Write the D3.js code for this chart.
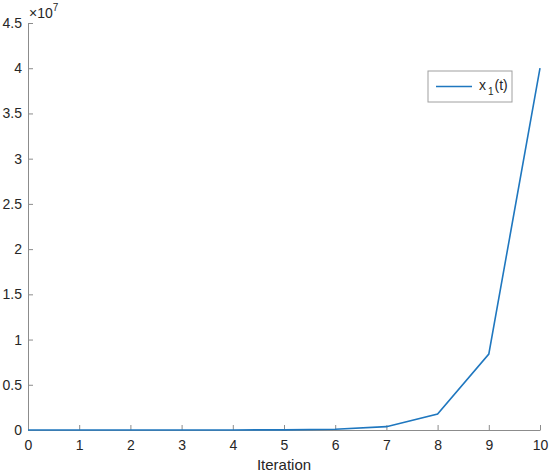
<!DOCTYPE html>
<html><head><meta charset="utf-8">
<script src="https://cdn.jsdelivr.net/npm/d3@7/dist/d3.min.js"></script>
<style>body{margin:0;background:#fff;font-family:Arial,"Liberation Sans",sans-serif;}</style>
</head><body>
<script>
const iterations = [0,1,2,3,4,5,6,7,8,9,10];
const x1Values = [7, 32, 150, 730, 3500, 16500, 78000, 370000, 1770000, 8400000, 40000000];
const xTicks = [0,1,2,3,4,5,6,7,8,9,10];
const yTicks = [0,0.5,1,1.5,2,2.5,3,3.5,4,4.5];
const W=550,H=473;
const m={l:28,r:10,t:23,b:43};
const F="Arial, Liberation Sans, sans-serif";
const svg=d3.select("body").append("svg").attr("width",W).attr("height",H);
const x=d3.scaleLinear().domain([0,10]).range([m.l,W-m.r]);
const y=d3.scaleLinear().domain([0,4.5e7]).range([H-m.b,m.t]);
const gray="#8c8c8c", txt="#262626";
const gx=svg.append("g").attr("transform",`translate(0,${H-m.b})`)
 .call(d3.axisBottom(x).tickValues(xTicks).tickSizeInner(-5).tickSizeOuter(0).tickPadding(10).tickFormat(d3.format("d")));
const gy=svg.append("g").attr("transform",`translate(${m.l},0)`)
 .call(d3.axisLeft(y).tickValues(yTicks.map(v=>v*1e7)).tickSizeInner(-5).tickSizeOuter(0).tickPadding(6).tickFormat(d=>d3.format("")(+(d/1e7).toFixed(1))));
[gx,gy].forEach(g=>{g.select(".domain").attr("stroke",gray);g.selectAll(".tick line").attr("stroke",gray);
 g.selectAll("text").attr("fill",txt).attr("font-size",14).attr("font-family",F);});
svg.append("text").attr("x",m.l+1).attr("y",m.t-5).attr("fill",txt).attr("font-size",14).attr("font-family",F)
 .text("×10").append("tspan").attr("dy",-7).attr("font-size",10).text("7");
svg.append("text").attr("x",(m.l+W-m.r)/2).attr("y",H-3).attr("text-anchor","middle").attr("fill",txt).attr("font-size",15).attr("font-family",F).text("Iteration");
const line=d3.line().x((d,i)=>x(iterations[i])).y(d=>y(d));
svg.append("path").datum(x1Values).attr("d",line).attr("fill","none").attr("stroke","#1f77bf").attr("stroke-width",1.6);
const lg=svg.append("g").attr("transform","translate(428,71)");
lg.append("rect").attr("width",84).attr("height",31).attr("fill","#fff").attr("stroke","#a0a0a0").attr("stroke-width",1);
lg.append("line").attr("x1",8).attr("x2",44).attr("y1",15.5).attr("y2",15.5).attr("stroke","#1f77bf").attr("stroke-width",1.6);
const lt=lg.append("text").attr("x",51).attr("y",19).attr("fill",txt).attr("font-size",14).attr("font-family",F).text("x");
lt.append("tspan").attr("dy",5).attr("dx",2).attr("font-size",10).text("1");
lt.append("tspan").attr("dy",-5).attr("dx",1).text("(t)");
</script>
</body></html>
